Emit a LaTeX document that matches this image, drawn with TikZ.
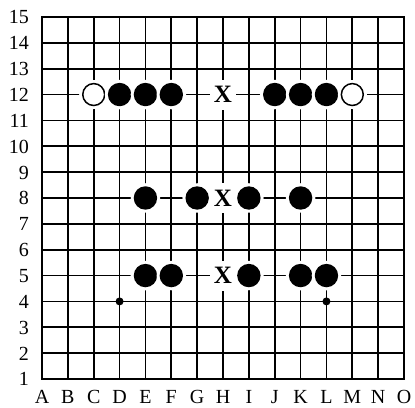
\documentclass[tikz,border=0pt]{standalone}
\usepackage{fontspec}
\setmainfont{Liberation Serif}
\begin{document}
\begin{tikzpicture}[x=25.86pt,y=25.86pt,
  gridline/.style={line width=1.7pt},
  boardedge/.style={line width=2.7pt},
  lbl/.style={font=\fontsize{20}{20}\selectfont, inner sep=0pt},
  blackstone/.style={circle, fill=black, inner sep=0pt, minimum size=23.4pt,
    preaction={draw=white, fill=white, line width=6pt}},
  whitestone/.style={circle, draw=black, fill=white, line width=1.5pt, inner sep=0pt, minimum size=21.9pt,
    preaction={draw=white, fill=white, line width=7pt}},
  xmark/.style={fill=white, inner sep=0pt, minimum width=26pt, minimum height=30pt,
    font=\fontsize{25}{25}\selectfont\bfseries},
  hoshi/.style={circle, fill=black, inner sep=0pt, minimum size=8pt}]
\useasboundingbox (-0.624,-0.083) rectangle (15.424,15.656);
% grid
\foreach \i in {1,...,15} {
  \draw[gridline] (\i,1) -- (\i,15);
  \draw[gridline] (1,\i) -- (15,\i);
}
\draw[boardedge] (1,1) rectangle (15,15);
% labels
\foreach \r in {1,...,15}
  \node[lbl, anchor=base east] (row\r) at (0.5,\r-0.27) {\r};
\foreach \c [count=\i] in {A,B,C,D,E,F,G,H,I,J,K,L,M,N,O}
  \node[lbl, anchor=base] (col\c) at (\i,0.04) {\c};
% hoshi
\node[hoshi] (D4) at (4,4) {};
\node[hoshi] (L4) at (12,4) {};
% row 12
\node[whitestone] (C12) at (3,12) {};
\node[blackstone] (D12) at (4,12) {};
\node[blackstone] (E12) at (5,12) {};
\node[blackstone] (F12) at (6,12) {};
\node[xmark] (H12) at (8,12) {X};
\node[blackstone] (J12) at (10,12) {};
\node[blackstone] (K12) at (11,12) {};
\node[blackstone] (L12) at (12,12) {};
\node[whitestone] (M12) at (13,12) {};
% row 8
\node[blackstone] (E8) at (5,8) {};
\node[blackstone] (G8) at (7,8) {};
\node[xmark] (H8) at (8,8) {X};
\node[blackstone] (I8) at (9,8) {};
\node[blackstone] (K8) at (11,8) {};
% row 5
\node[blackstone] (E5) at (5,5) {};
\node[blackstone] (F5) at (6,5) {};
\node[xmark] (H5) at (8,5) {X};
\node[blackstone] (I5) at (9,5) {};
\node[blackstone] (K5) at (11,5) {};
\node[blackstone] (L5) at (12,5) {};
\end{tikzpicture}
\end{document}
